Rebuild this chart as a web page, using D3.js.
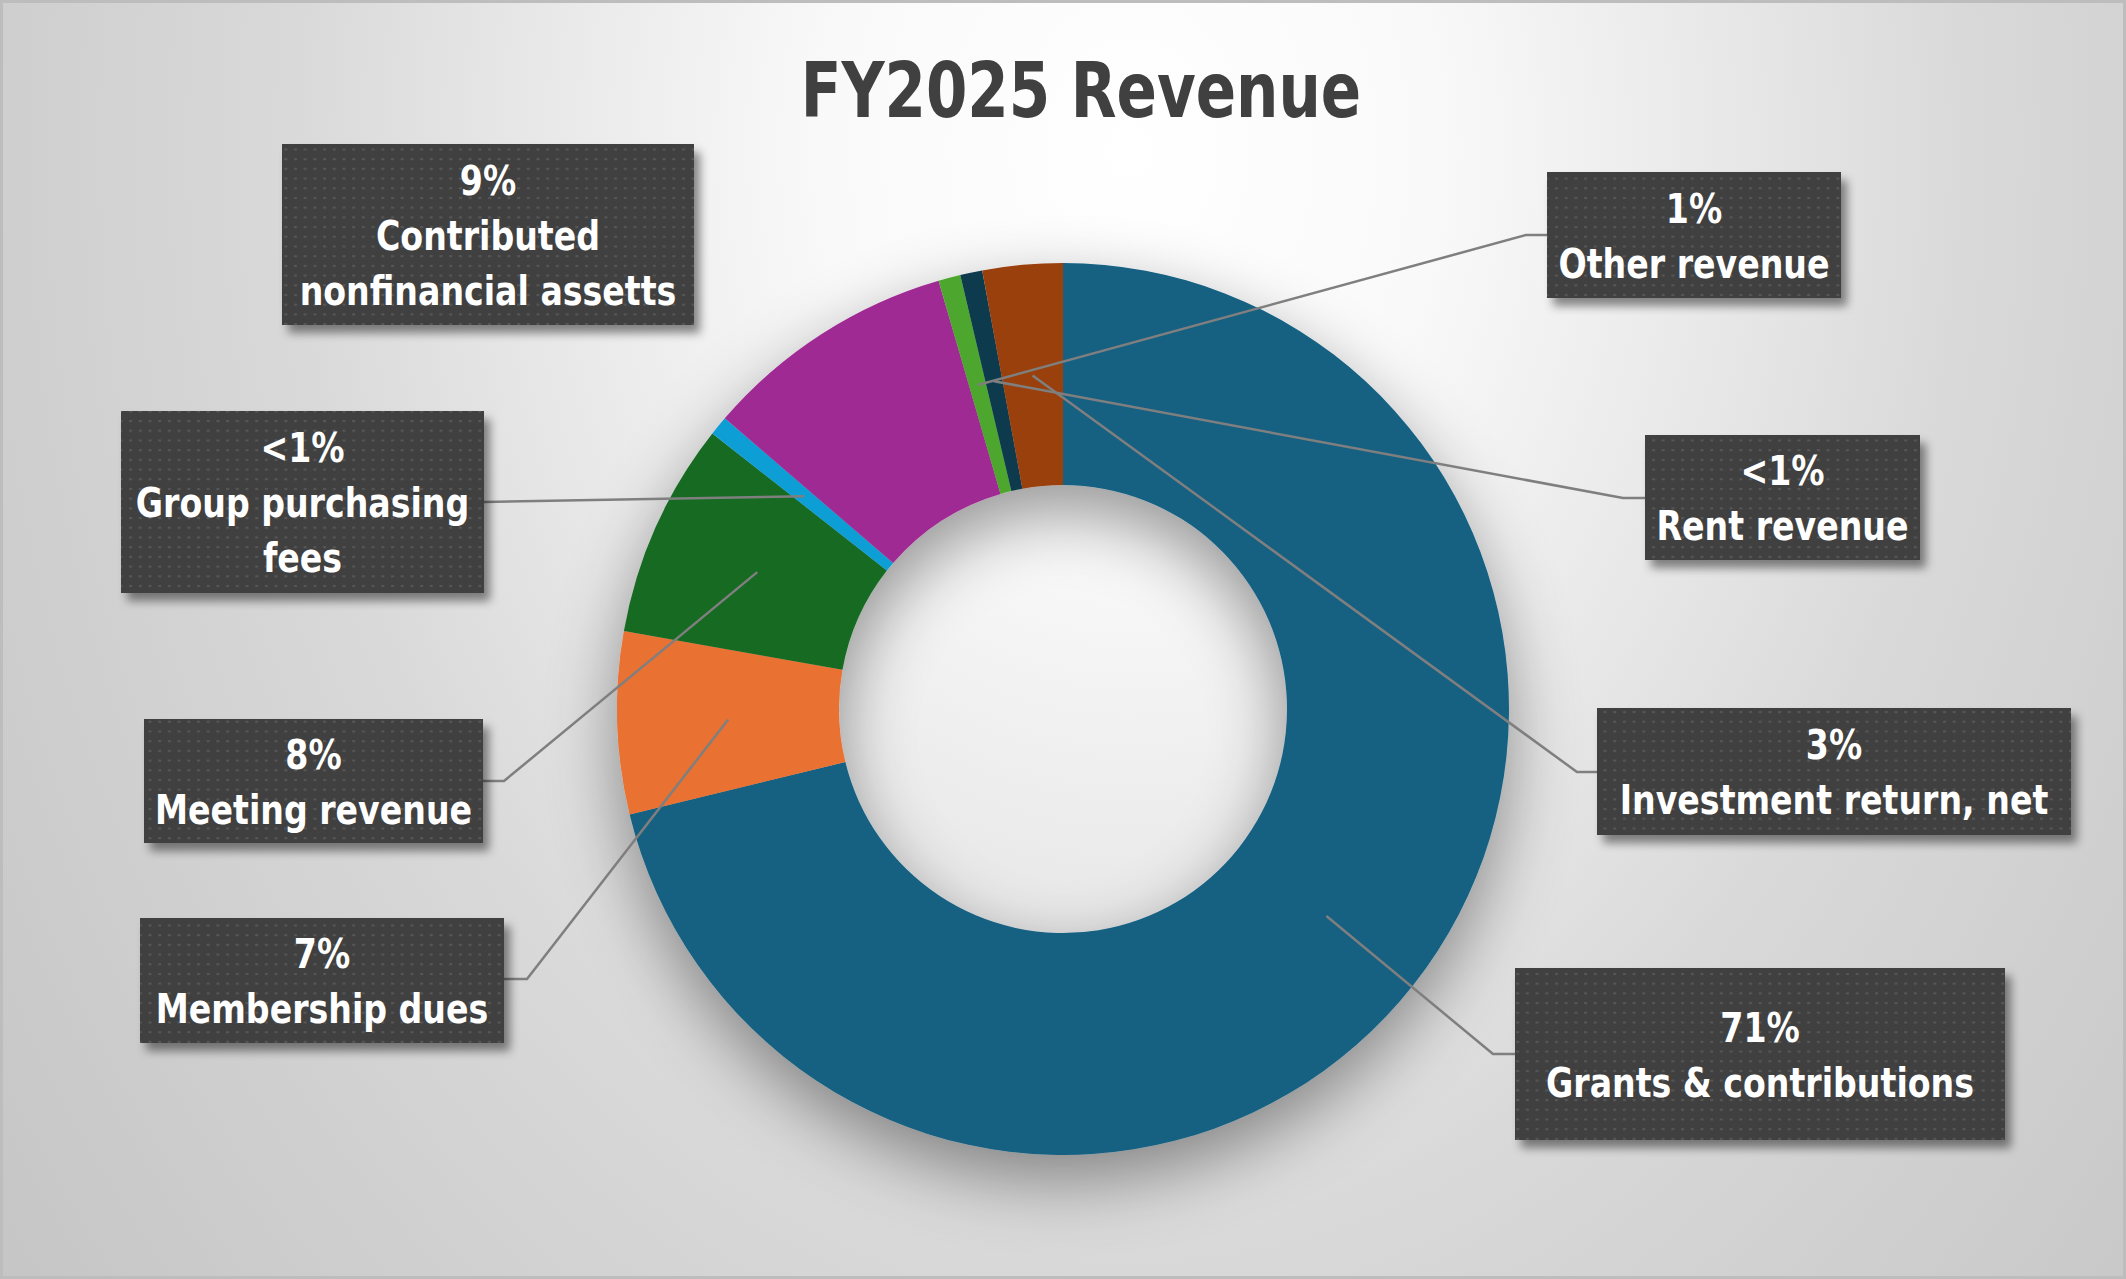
<!DOCTYPE html>
<html>
<head>
<meta charset="utf-8">
<script src="https://cdn.jsdelivr.net/npm/d3@7"></script>
<style>
  body { margin: 0; background: #fff; }
  svg { display: block; }
  text { font-family: "Liberation Sans Narrow", "DejaVu Sans Condensed", "Roboto", sans-serif; font-weight: bold; }
</style>
</head>
<body>
<script>
// Data
var categories = ["Grants & contributions", "Membership dues", "Meeting revenue", "Group purchasing fees",
                  "Contributed nonfinancial assetts", "Other revenue", "Rent revenue", "Investment return, net"];
var values = [71.2, 6.6, 7.8, 0.7, 9.2, 0.8, 0.8, 2.9];
var pctLabels = ["71%", "7%", "8%", "<1%", "9%", "1%", "<1%", "3%"];
var labelLines = [["Grants & contributions"], ["Membership dues"], ["Meeting revenue"], ["Group purchasing", "fees"],
                  ["Contributed", "nonfinancial assetts"], ["Other revenue"], ["Rent revenue"], ["Investment return, net"]];
var colors = ["#156082", "#E97132", "#196B24", "#0F9ED5", "#A02B93", "#4EA72E", "#0D3A4E", "#994011"];

// label box layout (x, y, w, h) and leader elbow (ex, ey)
var boxes = [
  { x: 1515, y: 968, w: 490, h: 172, ex: 1493, ey: 1054, side: "right" },
  { x: 140,  y: 918, w: 364, h: 125, ex: 527,  ey: 979,  side: "left" },
  { x: 144,  y: 719, w: 339, h: 124, ex: 504,  ey: 781,  side: "left" },
  { x: 121,  y: 411, w: 363, h: 182, ex: 484,  ey: 502,  side: "left" },
  { x: 282,  y: 144, w: 412, h: 181, line: false },
  { x: 1547, y: 172, w: 294, h: 126, ex: 1526, ey: 235,  side: "right" },
  { x: 1645, y: 435, w: 275, h: 125, ex: 1623, ey: 498,  side: "right" },
  { x: 1597, y: 708, w: 474, h: 127, ex: 1577, ey: 772,  side: "right" }
];

var W = 2126, H = 1279;
var cx = 1063, cy = 709, outerR = 446, innerR = 224;

var svg = d3.select("body").append("svg")
    .attr("width", W)
    .attr("height", H);

var defs = svg.append("defs");

// background gradient, light near the top centre
var bg = defs.append("radialGradient")
    .attr("id", "bg")
    .attr("gradientUnits", "userSpaceOnUse")
    .attr("cx", 1130).attr("cy", 150).attr("r", 1400)
    .attr("gradientTransform", "translate(1130,150) scale(1,1.3) translate(-1130,-150)");
[[0, "#ffffff"], [0.22, "#f9f9f9"], [0.45, "#e6e6e6"], [0.6, "#d9d9d9"], [0.78, "#d0d0d0"], [1, "#c6c6c6"]]
    .forEach(function(s) {
        bg.append("stop").attr("offset", s[0]).attr("stop-color", s[1]);
    });

var pat = defs.append("pattern")
    .attr("id", "dots")
    .attr("patternUnits", "userSpaceOnUse")
    .attr("width", 9.7).attr("height", 9.7);
pat.append("rect").attr("width", 9.7).attr("height", 9.7).attr("fill", "#404040");
pat.append("rect").attr("x", 3).attr("y", 3).attr("width", 3).attr("height", 2).attr("fill", "#575757");

var sh = defs.append("filter").attr("id", "donutShadow")
    .attr("x", "-30%").attr("y", "-30%").attr("width", "160%").attr("height", "170%");
sh.append("feDropShadow").attr("dx", 0).attr("dy", 26).attr("stdDeviation", 34)
    .attr("flood-color", "#000").attr("flood-opacity", 0.4);

var bsh = defs.append("filter").attr("id", "boxShadow")
    .attr("x", "-10%").attr("y", "-10%").attr("width", "130%").attr("height", "140%");
bsh.append("feDropShadow").attr("dx", 6).attr("dy", 8).attr("stdDeviation", 5)
    .attr("flood-color", "#000").attr("flood-opacity", 0.45);

// background
svg.append("rect")
    .attr("x", 1.5).attr("y", 1.5)
    .attr("width", W - 3).attr("height", H - 3)
    .attr("fill", "url(#bg)")
    .attr("stroke", "#bdbdbd")
    .attr("stroke-width", 3);

// title (font is squeezed to look like a narrow face)
svg.append("text")
    .attr("transform", "translate(1081,117) scale(0.87,1)")
    .attr("text-anchor", "middle")
    .attr("font-size", 76)
    .attr("fill", "#404040")
    .text("FY2025 Revenue");

var pie = d3.pie().sort(null).value(function(d) { return d; });
var arcs = pie(values);

var arc = d3.arc().innerRadius(innerR).outerRadius(outerR);
var midArc = d3.arc().innerRadius((innerR + outerR) / 2).outerRadius((innerR + outerR) / 2);

var g = svg.append("g").attr("transform", "translate(" + cx + "," + cy + ")");

g.append("g")
    .attr("filter", "url(#donutShadow)")
    .selectAll("path")
    .data(arcs)
    .enter().append("path")
    .attr("d", arc)
    .attr("fill", function(d, i) { return colors[i]; });

// leader lines
var line = d3.line();
svg.append("g")
    .selectAll("path")
    .data(arcs.filter(function(d, i) { return boxes[i].line !== false; }))
    .enter().append("path")
    .attr("d", function(d) {
        var b = boxes[d.index];
        var c = midArc.centroid(d);
        var edgeX = b.side == "right" ? b.x : b.x + b.w;
        return line([[cx + c[0], cy + c[1]], [b.ex, b.ey], [edgeX, b.ey]]);
    })
    .attr("fill", "none")
    .attr("stroke", "#7f7f7f")
    .attr("stroke-width", 2.5);

// label boxes
var lab = svg.append("g")
    .selectAll("g")
    .data(arcs)
    .enter().append("g");

lab.append("rect")
    .attr("x", function(d) { return boxes[d.index].x; })
    .attr("y", function(d) { return boxes[d.index].y; })
    .attr("width", function(d) { return boxes[d.index].w; })
    .attr("height", function(d) { return boxes[d.index].h; })
    .attr("fill", "url(#dots)")
    .attr("filter", "url(#boxShadow)");

lab.each(function(d) {
    var b = boxes[d.index];
    var lines = [pctLabels[d.index]].concat(labelLines[d.index]);
    var mid = b.y + b.h / 2;
    var first = mid - 55 * (lines.length - 1) / 2 + 15;
    d3.select(this).selectAll("text")
        .data(lines)
        .enter().append("text")
        .attr("transform", function(t, j) {
            return "translate(" + (b.x + b.w / 2) + "," + (first + j * 55) + ") scale(0.9,1)";
        })
        .attr("text-anchor", "middle")
        .attr("font-size", 41)
        .attr("fill", "#ffffff")
        .text(function(t) { return t; });
});
</script>
</body>
</html>
